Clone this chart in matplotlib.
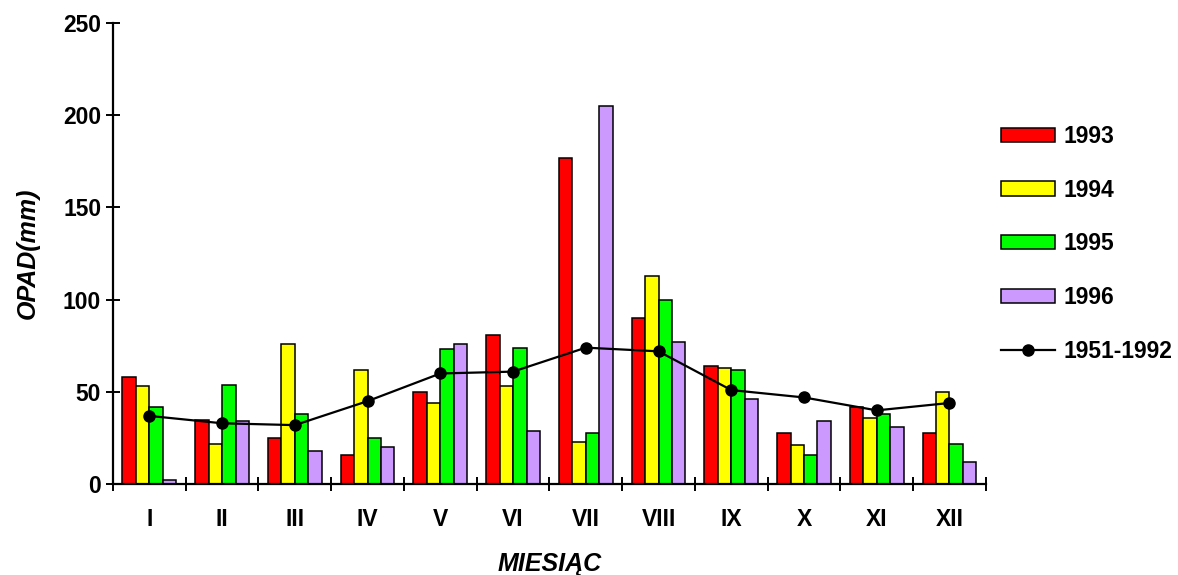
import numpy as np
import matplotlib.pyplot as plt

plt.rcParams['font.family'] = ['Liberation Sans', 'DejaVu Sans']
plt.rcParams['font.weight'] = 'bold'

months = ['I', 'II', 'III', 'IV', 'V', 'VI', 'VII', 'VIII', 'IX', 'X', 'XI', 'XII']

# monthly precipitation (mm)
p1993 = [58, 35, 25, 16, 50, 81, 177, 90, 64, 28, 42, 28]
p1994 = [53, 22, 76, 62, 44, 53, 23, 113, 63, 21, 36, 50]
p1995 = [42, 54, 38, 25, 73, 74, 28, 100, 62, 16, 38, 22]
p1996 = [2, 34, 18, 20, 76, 29, 205, 77, 46, 34, 31, 12]
# multi-year mean
p_mean = [37, 33, 32, 45, 60, 61, 74, 72, 51, 47, 40, 44]

series = [('1993', p1993, '#FF0000'),
          ('1994', p1994, '#FFFF00'),
          ('1995', p1995, '#00FF00'),
          ('1996', p1996, '#CC99FF')]

fig = plt.figure(figsize=(11.78, 5.75), dpi=100)
ax = fig.add_axes([0.0959, 0.158, 0.741, 0.802])

x = np.arange(len(months))
w = 0.185
for i, (lab, vals, col) in enumerate(series):
    ax.bar(x + (i - 1.5) * w, vals, w, color=col, edgecolor='black',
           linewidth=1.1, label=lab, zorder=2)

ax.plot(x, p_mean, color='black', linewidth=1.6, marker='o', markersize=8,
        label='1951-1992', zorder=3)

ax.set_xlim(-0.5, len(months) - 0.5)
ax.set_ylim(0, 250)
ax.set_yticks(np.arange(0, 251, 50))
ax.set_xticks(np.arange(-0.5, len(months), 1.0))
ax.set_xticklabels([])
ax.set_xticks(x, minor=True)
ax.set_xticklabels(months, minor=True, fontsize=16.5, fontweight='bold')
ax.tick_params(axis='x', which='minor', length=0, pad=17)
ax.tick_params(axis='x', which='major', direction='inout', length=10, width=1.4)
ax.tick_params(axis='y', direction='inout', length=10, width=1.4, labelsize=16.5)
for t in ax.get_yticklabels():
    t.set_fontweight('bold')

for s in ['top', 'right']:
    ax.spines[s].set_visible(False)
for s in ['left', 'bottom']:
    ax.spines[s].set_linewidth(1.6)

ax.set_ylabel('OPAD(mm)', fontsize=18, fontweight='bold', style='italic', labelpad=17)
ax.set_xlabel('MIESIĄC', fontsize=18, fontweight='bold', style='italic', labelpad=15)

handles, labels = ax.get_legend_handles_labels()
order = [1, 2, 3, 4, 0]
fig.legend([handles[k] for k in order], [labels[k] for k in order],
           loc='center left', bbox_to_anchor=(0.832, 0.576), frameon=False,
           fontsize=16.5, handlelength=2.35, handleheight=0.57, labelspacing=1.34,
           handletextpad=0.4)

fig.savefig('out.png', dpi=100)
